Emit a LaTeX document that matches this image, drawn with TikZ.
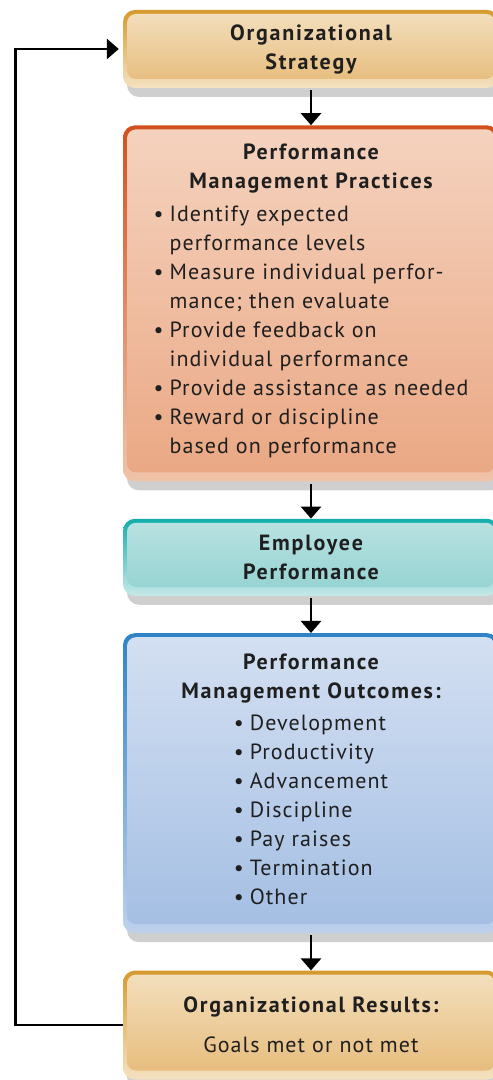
\documentclass[tikz,border=0pt]{standalone}
\usepackage{fontspec}
\setmainfont{PT Sans}[LetterSpace=5, BoldFeatures={LetterSpace=8}]
\usetikzlibrary{positioning,arrows.meta,shadows}

\definecolor{goldedge}{HTML}{D69A2D}
\definecolor{goldband}{HTML}{F4E2C2}
\definecolor{goldtop}{HTML}{F3E0BF}
\definecolor{goldbot}{HTML}{E6BA78}
\definecolor{rustedge}{HTML}{D2501E}
\definecolor{rustband}{HTML}{EFC3A8}
\definecolor{rusttop}{HTML}{F5D3BF}
\definecolor{rustbot}{HTML}{EAA783}
\definecolor{tealedge}{HTML}{14AEAD}
\definecolor{tealband}{HTML}{C6E8E8}
\definecolor{tealtop}{HTML}{BAE2E2}
\definecolor{tealbot}{HTML}{92D2D1}
\definecolor{blueedge}{HTML}{2F83C6}
\definecolor{blueband}{HTML}{BED1EC}
\definecolor{bluetop}{HTML}{D4E0F2}
\definecolor{bluebot}{HTML}{A3BEE3}

\begin{document}
\begin{tikzpicture}[
  x=1pt, y=1pt,
  font=\fontsize{22}{29}\selectfont,
  node distance=37pt,
  card/.style n args={4}{rounded corners=12pt, align=center, inner sep=0pt,
    minimum width=376pt, text=black!88,
    top color=#1, bottom color=#2,
    drop shadow={shadow xshift=4pt, shadow yshift=-9pt, fill=black!19, opacity=1},
    path picture={\shade[rounded corners=9pt, top color=#3, bottom color=#4]
      ([xshift=4pt,yshift=-4pt]path picture bounding box.north west) rectangle
      ([xshift=-4pt,yshift=9pt]path picture bounding box.south east);}},
  arr/.style={-{Triangle[width=20pt,length=12pt]}, line width=2.8pt}
]
\clip (0,0) rectangle (493,1080);

\node[card={goldedge}{goldband}{goldtop}{goldbot}, minimum height=78pt] (strat) at (311,1031)
  {\bfseries Organizational\\ \bfseries Strategy};
\node[card={rustedge}{rustband}{rusttop}{rustbot}, minimum height=356pt, below=of strat] (prac)
  {{\bfseries Performance}\\ {\bfseries Management Practices}\\[7pt]
   \begin{tabular}{@{}l@{\hspace{6pt}}l@{}}
   \textbullet & Identify expected\\
               & performance levels\\
   \textbullet & Measure individual perfor-\\
               & mance; then evaluate\\
   \textbullet & Provide feedback on\\
               & individual performance\\
   \textbullet & Provide assistance as needed\\
   \textbullet & Reward or discipline\\
               & based on performance
   \end{tabular}};
\node[card={tealedge}{tealband}{tealtop}{tealbot}, minimum height=77pt, below=of prac] (emp)
  {\bfseries Employee\\ \bfseries Performance};
\node[card={blueedge}{blueband}{bluetop}{bluebot}, minimum height=300pt, below=of emp] (outc)
  {{\bfseries Performance}\\ {\bfseries Management Outcomes:}\\[6pt]
   \begin{tabular}{@{}l@{\hspace{6pt}}l@{}}
   \textbullet & Development\\
   \textbullet & Productivity\\
   \textbullet & Advancement\\
   \textbullet & Discipline\\
   \textbullet & Pay raises\\
   \textbullet & Termination\\
   \textbullet & Other
   \end{tabular}};
\node[card={goldedge}{goldband}{goldtop}{goldbot}, minimum height=109pt, below=of outc] (res)
  {{\bfseries Organizational Results:}\\[11pt] Goals met or not met};

\draw[arr] (strat.south) ++(0,-2) -- (prac.north);
\draw[arr] (prac.south) ++(0,-2) -- (emp.north);
\draw[arr] (emp.south) ++(0,-2) -- (outc.north);
\draw[arr] (outc.south) ++(0,-2) -- (res.north);
\draw[arr] (res.west) -- ++(-107,0) |- ([xshift=-4pt]strat.west);
\end{tikzpicture}
\end{document}
